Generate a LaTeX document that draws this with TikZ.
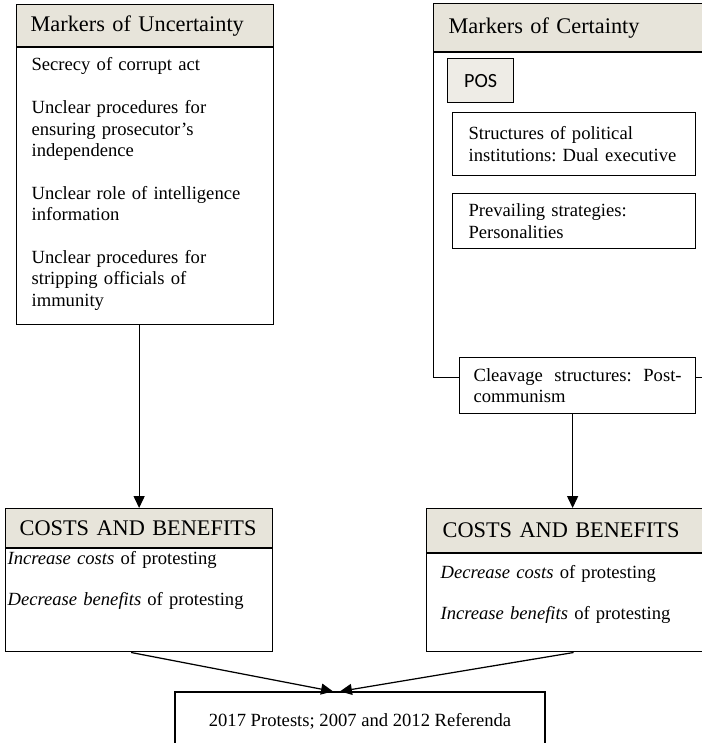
\documentclass[tikz,border=0pt]{standalone}
\usepackage{fontspec}
\setmainfont{Liberation Serif}
\newfontfamily\posfont{Carlito}
\usetikzlibrary{arrows.meta, positioning, calc}
\definecolor{hdrfill}{RGB}{231, 228, 218}
\definecolor{posfill}{RGB}{238, 236, 230}
\newdimen\pxu
\pxu=0.645pt
\newcommand{\hdrfont}{\fontsize{14.4}{17}\selectfont}
\newcommand{\txtfont}{\fontsize{12}{13.8}\selectfont}
\tikzset{
	header/.style={draw, fill=hdrfill, anchor=north west, align=left, font=\hdrfont, inner ysep=0pt},
	body/.style={draw, fill=white, align=left, font=\txtfont},
	item/.style={draw, fill=white, anchor=north west, align=left, font=\txtfont, inner ysep=0pt},
	posbox/.style={draw, fill=posfill, anchor=north west, font=\posfont\fontsize{13}{15}\selectfont, inner sep=0pt},
	outcome/.style={draw, fill=white, font=\txtfont, minimum width=370\pxu, minimum height=58\pxu},
	flow/.style={-{Triangle[length=7.7pt, width=7.1pt]}}
}
\frenchspacing

\begin{document}
\begin{tikzpicture}[x=\pxu, y=-\pxu, line width=0.8pt]
	\useasboundingbox (0,0) rectangle (702,743);
	\clip (0,0) rectangle (702,743);

	% uncertainty
	\node (unchd) [header, text width=229\pxu, inner xsep=14\pxu, minimum height=42\pxu] at (16,4) {Markers of Uncertainty};
	\node (uncbd) [body, below=0pt of unchd, text width=227\pxu, inner xsep=15\pxu, inner ysep=4\pxu, text height=19\pxu, text depth=250\pxu] {%
		Secrecy of corrupt act\\[13.8pt]
		Unclear procedures for\\ensuring prosecutor’s\\independence\\[13.8pt]
		Unclear role of intelligence\\information\\[13.8pt]
		Unclear procedures for\\stripping officials of\\immunity};

	% certainty
	\node (cerhd) [header, text width=370\pxu, inner xsep=15\pxu, minimum height=48\pxu] at (433,3) {Markers of Certainty};
	\node (cerbd) [draw, below=0pt of cerhd, minimum width=400\pxu, minimum height=325\pxu, inner sep=0pt] {};
	\node (pos) [posbox, minimum width=66\pxu, minimum height=44\pxu] at (447,58) {POS};
	\node (inst) [item, text width=211\pxu, inner xsep=16\pxu, minimum height=63\pxu] at (452,112) {Structures of political\\institutions: Dual executive};
	\node (strat) [item, text width=211\pxu, inner xsep=16\pxu, minimum height=55\pxu] at (452,193) {Prevailing strategies:\\Personalities};
	\node (cleav) [item, text width=208\pxu, inner xsep=14\pxu, minimum height=56\pxu] at (459,357) {Cleavage\hfill structures:\hfill Post-\\communism};

	% costs and benefits
	\node (lchd) [header, text width=239\pxu, inner xsep=14\pxu, minimum height=39\pxu] at (5,508) {COSTS AND BENEFITS};
	\node (lcbd) [body, below=0pt of lchd, text width=263\pxu, inner xsep=2\pxu, inner ysep=2\pxu, text height=14\pxu, text depth=85\pxu] {%
		\textit{Increase costs} of protesting\\[12.6pt]
		\textit{Decrease benefits} of protesting};
	\node (rchd) [header, text width=268\pxu, inner xsep=16\pxu, minimum height=44\pxu] at (426,508) {COSTS AND BENEFITS};
	\node (rcbd) [body, below=0pt of rchd, text width=272\pxu, inner xsep=14\pxu, inner ysep=4\pxu, text height=21\pxu, text depth=69\pxu] {%
		\textit{Decrease costs} of protesting\\[12.6pt]
		\textit{Increase benefits} of protesting};

	% outcome
	\node (prot) [outcome] at (360,721) {2017 Protests; 2007 and 2012 Referenda};

	\coordinate (ctop) at ($(cleav.south)+(-5,0)$);
	\draw[flow] (uncbd.south -| lchd.north) -- (lchd.north);
	\draw[flow] (ctop) -- (ctop |- rchd.north);
	\draw[flow] ($(lcbd.south)+(-8,0)$) -- ($(prot.north)+(-27,0)$);
	\draw[flow] ($(rcbd.south)+(-3,0)$) -- ($(prot.north)+(-20,0)$);
\end{tikzpicture}
\end{document}
